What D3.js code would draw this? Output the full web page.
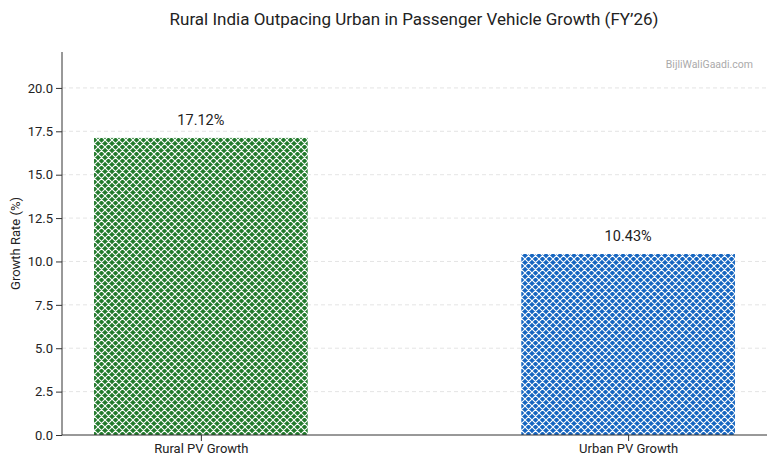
<!DOCTYPE html>
<html lang="en">
<head>
<meta charset="UTF-8">
<script src="https://cdn.jsdelivr.net/npm/d3@7"></script>
<style>
  body {margin: 0; background: #fff; font-family: Roboto, sans-serif;}
</style>
</head>
<body>
<svg id="chart" width="779" height="467"></svg>
<script>
var categories = ["Rural PV Growth", "Urban PV Growth"];
var values = [17.12, 10.43];
var colors = ["#217a2b", "#1565c0"];
var yTicks = [0, 2.5, 5, 7.5, 10, 12.5, 15, 17.5, 20];

var svg = d3.select("#chart");
var mLeft = 62, mRight = 767, mTop = 52, mBottom = 435;

var x = d3.scaleLinear().domain([-0.325, 1.325]).range([mLeft, mRight]);
var y = d3.scaleLinear().domain([0, 22.07]).range([mBottom, mTop]);

// hatch patterns
var defs = svg.append("defs");
colors.forEach(function(c, i) {
  var p = defs.append("pattern").attr("id", "hatch" + i)
    .attr("patternUnits", "userSpaceOnUse").attr("width", 7).attr("height", 7);
  p.append("rect").attr("width", 7).attr("height", 7).attr("fill", c);
  p.append("path").attr("d", "M0,0L7,7M7,0L0,7M-1,6L1,8M6,-1L8,1M6,8L8,6M-1,1L1,-1")
    .attr("stroke", "#fff").attr("stroke-width", 1.1);
});

// grid
svg.append("g").selectAll("line").data(yTicks.slice(1)).enter().append("line")
  .attr("x1", mLeft).attr("x2", mRight)
  .attr("y1", function(d){return y(d);}).attr("y2", function(d){return y(d);})
  .attr("stroke", "#ddd").attr("stroke-dasharray", "4,3").attr("stroke-width", 0.8);

svg.selectAll("rect.bar").data(values).enter().append("rect").attr("class", "bar")
  .attr("x", function(d, i){return x(i - 0.25);})
  .attr("width", x(0.25) - x(-0.25))
  .attr("y", function(d){return y(d);})
  .attr("height", function(d){return mBottom - y(d);})
  .attr("fill", function(d, i){return "url(#hatch" + i + ")";});

svg.selectAll("text.lbl").data(values).enter().append("text")
  .attr("x", function(d, i){return x(i);}).attr("y", function(d){return y(d) - 13;})
  .attr("text-anchor", "middle").attr("font-size", 14.5).attr("fill", "#222")
  .text(function(d){return d.toFixed(2) + "%";});

var yAxis = svg.append("g").attr("transform", "translate(" + mLeft + ",0)")
  .call(d3.axisLeft(y).tickValues(yTicks).tickFormat(d3.format(".1f")).tickSizeOuter(0));
var xAxis = svg.append("g").attr("transform", "translate(0," + mBottom + ")")
  .call(d3.axisBottom(x).tickValues([0, 1]).tickFormat(function(d){return categories[d];}).tickSizeOuter(0));
[yAxis, xAxis].forEach(function(a) {
  a.selectAll("text").attr("font-size", 13).attr("fill", "#222").attr("font-family", "Roboto, sans-serif");
  a.selectAll("line,path").attr("stroke", "#333");
});
yAxis.select(".domain").attr("d", "M0," + mTop + "V" + mBottom);
xAxis.select(".domain").attr("d", "M" + mLeft + ",0H" + mRight);

svg.append("text").attr("transform", "translate(20," + ((mTop + mBottom) / 2) + ") rotate(-90)")
  .attr("text-anchor", "middle").attr("font-size", 13).attr("fill", "#222").text("Growth Rate (%)");
svg.append("text").attr("x", 414).attr("y", 25).attr("text-anchor", "middle")
  .attr("font-size", 17).attr("fill", "#222").text("Rural India Outpacing Urban in Passenger Vehicle Growth (FY\u201926)");
svg.append("text").attr("x", 753).attr("y", 68).attr("text-anchor", "end")
  .attr("font-size", 10.5).attr("fill", "#aaa").text("BijliWaliGaadi.com");
</script>
</body>
</html>
